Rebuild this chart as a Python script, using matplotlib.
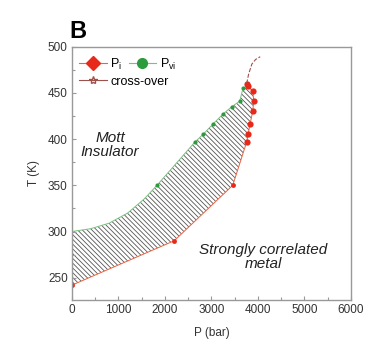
import numpy as np
import matplotlib.pyplot as plt
from matplotlib.lines import Line2D

plt.rcParams['font.family'] = ['Liberation Sans', 'DejaVu Sans']
plt.rcParams['hatch.linewidth'] = 0.6

# Données : P (bar), T (K)
p_i = [0, 2200, 3460, 3760, 3790, 3830, 3890, 3910, 3890, 3790, 3760]
t_i = [242, 290, 350, 397, 405, 416, 430, 441, 452, 457, 460]

p_vi = [0, 400, 800, 1200, 1550, 1830, 2650, 2820, 3030, 3250, 3440, 3610, 3680]
t_vi = [300, 303, 309, 320, 335, 350, 397, 405, 416, 427, 435, 441, 455]

p_cross = [3760, 3800, 3870, 3950, 4050]
t_cross = [460, 470, 481, 486, 489]

rouge = '#e82818'
vert = '#2e9a3e'
brun = '#a0504a'

fig = plt.figure(figsize=(3.67, 3.5), dpi=100)
ax = fig.add_axes([0.196, 0.143, 0.76, 0.724])

# zone hachurée entre les deux frontières
zone_p = list(p_vi) + [p_i[-1]] + list(p_i[::-1])
zone_t = list(t_vi) + [t_i[-1]] + list(t_i[::-1])
ax.fill(zone_p, zone_t, facecolor='none', edgecolor='#555555', linewidth=0, hatch='\\' * 7)

ax.plot(p_i, t_i, '-', color='#f06040', lw=0.7)
ax.plot(p_i[:3], t_i[:3], 'o', color=rouge, ms=3.5, mew=0)
ax.plot(p_i[3:], t_i[3:], 'o', color=rouge, ms=4.5, mew=0)
ax.plot(p_vi, t_vi, '-', color='#7cc080', lw=0.7)
ax.plot(p_vi[5:], t_vi[5:], 'o', color=vert, ms=3, mew=0)
ax.plot(p_cross, t_cross, '--', color=brun, lw=0.8)

ax.set_xlim(0, 6000)
ax.set_ylim(226, 500)
ax.set_xticks(np.arange(0, 6001, 1000))
ax.set_xticks(np.arange(500, 6000, 1000), minor=True)
ax.set_yticks(np.arange(250, 501, 50))
ax.set_yticks(np.arange(275, 500, 50), minor=True)
ax.tick_params(direction='in', labelsize=8.5, length=3, width=0.8, pad=3)
ax.tick_params(which='minor', direction='in', length=2, width=0.8)
ax.tick_params(which='both', colors='#999999', labelcolor='#333333')
for s in ax.spines.values():
    s.set_color('#999999')
    s.set_linewidth(1.0)

ax.set_xlabel('P (bar)', fontsize=8.5, color='#333333', labelpad=8)
ax.set_ylabel('T (K)', fontsize=8.5, color='#333333', labelpad=6)

ax.text(820, 394, 'Mott\nInsulator', style='italic', fontsize=11, ha='center', va='center',
        color='#222222', linespacing=1.0)
ax.text(4110, 272, 'Strongly correlated\nmetal', style='italic', fontsize=11, ha='center',
        va='center', color='#222222', linespacing=1.0)

fig.text(0.19, 0.89, 'B', fontsize=17, fontweight='bold')

# légende
h_i = Line2D([], [], color='#f06040', lw=0.8, marker='D', ms=7, mfc=rouge, mec=rouge)
h_vi = Line2D([], [], color='#7cc080', lw=0.8, marker='o', ms=7, mfc=vert, mec=vert)
leg1 = ax.legend([h_i, h_vi], ['P$_\\mathregular{i}$', 'P$_\\mathregular{vi}$'], ncol=2,
                 loc='upper left', bbox_to_anchor=(-0.01, 1.0), frameon=False, fontsize=9,
                 handlelength=2.2, handletextpad=0.3, columnspacing=0.5, borderpad=0.3)
ax.add_artist(leg1)
h_c = Line2D([], [], color=brun, lw=0.8, marker='*', ms=6, mfc='none', mec=brun)
ax.legend([h_c], ['cross-over'], loc='upper left', bbox_to_anchor=(-0.01, 0.925), frameon=False,
          fontsize=9, handlelength=2.2, handletextpad=0.3, borderpad=0.3)

fig.savefig('out.png', dpi=100)
